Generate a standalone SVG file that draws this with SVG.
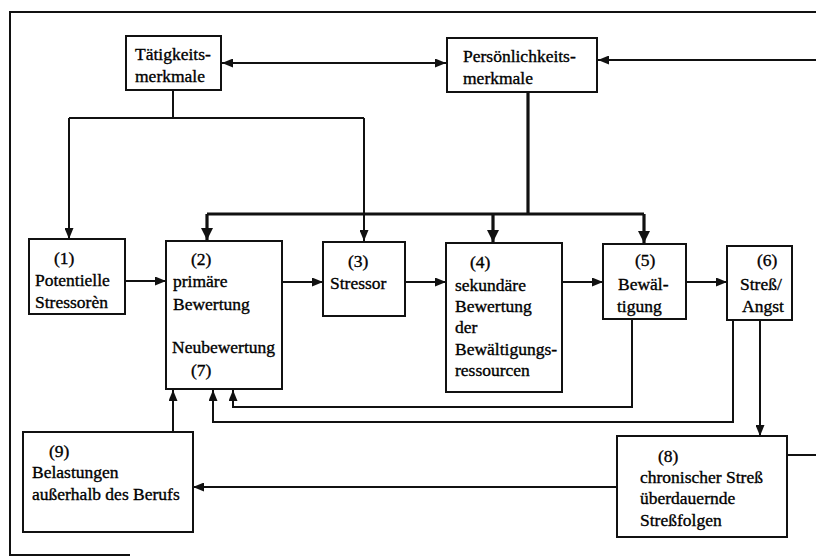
<svg xmlns="http://www.w3.org/2000/svg" width="816" height="558" viewBox="0 0 816 558">
<style>
  .box { fill: #fff; stroke: #111; stroke-width: 2; }
  .t { font-size: 17.5px; fill: #000; stroke: #000; stroke-width: 0.35; }
  .c { fill: none; stroke: #111; stroke-width: 2; }
  .ck { fill: none; stroke: #111; stroke-width: 3.2; }
  .frame { fill: none; stroke: #111; stroke-width: 2; }
</style>
<defs>
  <marker id="a" viewBox="0 0 11 9" refX="11" refY="4.5" markerWidth="11" markerHeight="9" markerUnits="userSpaceOnUse" orient="auto-start-reverse">
    <path d="M0,0 L11,4.5 L0,9 z" fill="#111"/>
  </marker>
  <marker id="ak" viewBox="0 0 12 12" refX="12" refY="6" markerWidth="12" markerHeight="12" markerUnits="userSpaceOnUse" orient="auto">
    <path d="M0,0 L12,6 L0,12 z" fill="#111"/>
  </marker>
</defs>
<rect width="816" height="558" fill="#fff"/>

<g id="frame">
  <path class="frame" d="M816,12 H10 V555 H130"/>
</g>

<g id="connectors">
  <line class="c" x1="222" y1="63" x2="446" y2="63" marker-start="url(#a)" marker-end="url(#a)"/>
  <line class="c" x1="816" y1="60" x2="598" y2="60" marker-end="url(#a)"/>
  <path class="c" d="M173,90 V118"/>
  <path class="c" d="M69,118 H364"/>
  <path class="c" d="M69,118 V239" marker-end="url(#a)"/>
  <path class="c" d="M364,118 V241" marker-end="url(#a)"/>
  <path class="ck" d="M528,92 V214"/>
  <path class="ck" d="M207,214 H644"/>
  <path class="ck" d="M207,214 V240" marker-end="url(#ak)"/>
  <path class="ck" d="M493,214 V242" marker-end="url(#ak)"/>
  <path class="ck" d="M644,214 V243" marker-end="url(#ak)"/>
  <line class="c" x1="125" y1="281" x2="166" y2="281" marker-end="url(#a)"/>
  <line class="c" x1="282" y1="282" x2="323" y2="282" marker-end="url(#a)"/>
  <line class="c" x1="405" y1="282" x2="446" y2="282" marker-end="url(#a)"/>
  <line class="c" x1="562" y1="282" x2="603" y2="282" marker-end="url(#a)"/>
  <line class="c" x1="686" y1="282" x2="727" y2="282" marker-end="url(#a)"/>
  <path class="c" d="M632,319 V407 H233 V390" marker-end="url(#a)"/>
  <path class="c" d="M733,320 V422 H213 V390" marker-end="url(#a)"/>
  <path class="c" d="M760,320 V436" marker-end="url(#a)"/>
  <path class="c" d="M787,455 H816"/>
  <path class="c" d="M617,487 H193" marker-end="url(#a)"/>
  <path class="c" d="M173,432 V390" marker-end="url(#a)"/>
</g>

<g font-family="Liberation Serif, serif">
<g id="taetigkeitsmerkmale">
  <rect class="box" x="126" y="36" width="95" height="54"/>
  <text class="t" x="135" y="60">Tätigkeits-</text>
  <text class="t" x="135" y="82">merkmale</text>
</g>

<g id="persoenlichkeitsmerkmale">
  <rect class="box" x="447" y="38" width="150" height="54"/>
  <text class="t" x="463" y="62">Persönlichkeits-</text>
  <text class="t" x="463" y="84">merkmale</text>
</g>

<g id="n1">
  <rect class="box" x="29" y="239" width="96" height="75"/>
  <text class="t" x="54" y="264">(1)</text>
  <text class="t" x="35" y="286">Potentielle</text>
  <text class="t" x="35" y="308">Stressorèn</text>
</g>

<g id="n2">
  <rect class="box" x="166" y="241" width="116" height="148"/>
  <text class="t" x="191" y="265">(2)</text>
  <text class="t" x="173" y="287">primäre</text>
  <text class="t" x="173" y="310">Bewertung</text>
  <text class="t" x="172" y="353">Neubewertung</text>
  <text class="t" x="191" y="376">(7)</text>
</g>

<g id="n3">
  <rect class="box" x="323" y="242" width="82" height="74"/>
  <text class="t" x="348" y="267">(3)</text>
  <text class="t" x="330" y="289">Stressor</text>
</g>

<g id="n4">
  <rect class="box" x="446" y="243" width="116" height="149"/>
  <text class="t" x="470" y="268">(4)</text>
  <text class="t" x="455" y="291">sekundäre</text>
  <text class="t" x="455" y="312">Bewertung</text>
  <text class="t" x="455" y="333">der</text>
  <text class="t" x="455" y="355">Bewältigungs-</text>
  <text class="t" x="455" y="376">ressourcen</text>
</g>

<g id="n5">
  <rect class="box" x="603" y="244" width="83" height="75"/>
  <text class="t" x="635" y="266">(5)</text>
  <text class="t" x="618" y="290">Bewäl-</text>
  <text class="t" x="617" y="312">tigung</text>
</g>

<g id="n6">
  <rect class="box" x="727" y="246" width="65" height="74"/>
  <text class="t" x="757" y="266">(6)</text>
  <text class="t" x="740" y="290">Streß/</text>
  <text class="t" x="742" y="312">Angst</text>
</g>

<g id="n8">
  <rect class="box" x="617" y="436" width="170" height="101"/>
  <text class="t" x="658" y="462">(8)</text>
  <text class="t" x="640" y="483">chronischer Streß</text>
  <text class="t" x="640" y="504">überdauernde</text>
  <text class="t" x="640" y="526">Streßfolgen</text>
</g>

<g id="n9">
  <rect class="box" x="23" y="432" width="170" height="100"/>
  <text class="t" x="49" y="457">(9)</text>
  <text class="t" x="32" y="478">Belastungen</text>
  <text class="t" x="32" y="500">außerhalb des Berufs</text>
</g>
</g>
</svg>
